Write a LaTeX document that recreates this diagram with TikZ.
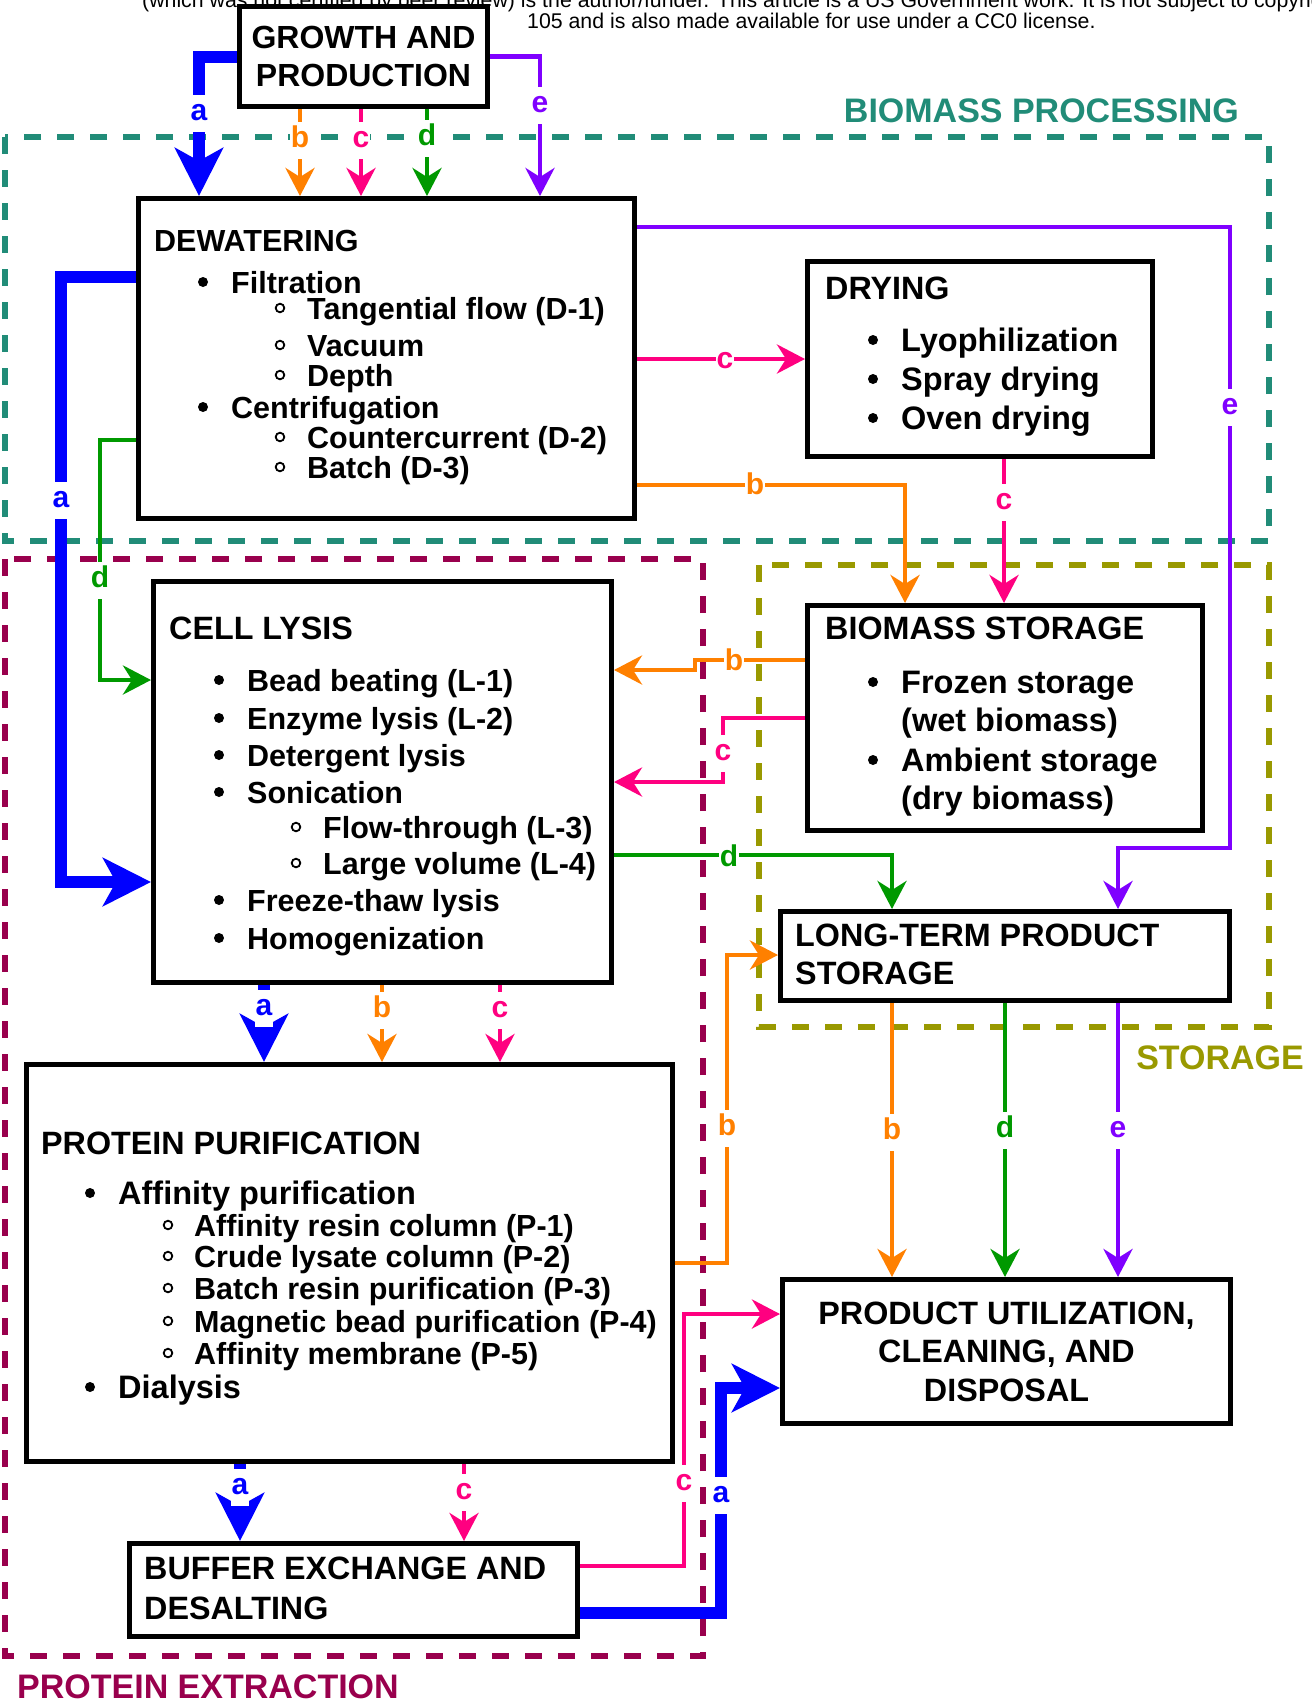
\documentclass[tikz,border=0pt]{standalone}
\usepackage{fontspec}
\setmainfont{Liberation Sans}[Ligatures={NoCommon}]
\usetikzlibrary{arrows.meta}
\definecolor{cA}{RGB}{0,0,255}
\definecolor{cB}{RGB}{255,128,0}
\definecolor{cC}{RGB}{255,0,128}
\definecolor{cD}{RGB}{0,153,0}
\definecolor{cE}{RGB}{127,0,255}
\definecolor{tealG}{RGB}{33,140,120}
\definecolor{maroonG}{RGB}{153,0,77}
\definecolor{oliveG}{RGB}{153,153,0}
\newcommand\fbody{\bfseries\fontsize{30.5}{36}\selectfont}
\newcommand\fbig{\bfseries\fontsize{32.5}{38}\selectfont}
\newcommand\ftitle{\bfseries\fontsize{32.3}{38}\selectfont}
\newcommand\flbl{\bfseries\fontsize{30}{32}\selectfont}
\newcommand\fsec{\bfseries\fontsize{34}{40}\selectfont}
\newcommand\fhead{\fontsize{21.3}{24}\selectfont}
\begin{document}
\begin{tikzpicture}[x=1pt,y=-1pt,
 box/.style={draw=black, line width=5pt, fill=white, inner sep=0pt, rectangle},
 ttl/.style={anchor=base west, font=\ftitle, inner sep=0pt},
 itm/.style={anchor=base west, font=\fbody, inner sep=0pt},
 itmb/.style={anchor=base west, font=\fbig, inner sep=0pt},
 ln/.style={line width=4.5pt, draw=#1, -{Stealth[length=28pt,width=29pt,inset=9pt]}},
 athk/.style={line width=12pt, draw=cA, -{Stealth[length=48pt,width=48pt,inset=13pt]}},
 lbl/.style={fill=white, text=#1, font=\flbl, inner xsep=0.5pt, inner ysep=5pt, text height=21pt, text depth=6pt},
 grp/.style={line width=5.5pt, dash pattern=on 17pt off 16pt, draw=#1},
 sec/.style={font=\fsec, text=#1, inner sep=0pt},
 bul/.style={fill=black},
 sbul/.style={draw=black, line width=1.8pt},
]
\useasboundingbox (0,0) rectangle (1312,1703);
\fill[white] (0,0) rectangle (1312,1703);

% header text
\node[anchor=base west, font=\fhead, inner sep=0pt] (hd1) at (142,7) {(which was not certified by peer review) is the author/funder. This article is a US Government work. It is not subject to copyright};
\node[anchor=base west, font=\fhead, inner sep=0pt] (hd2) at (527,28) {105 and is also made available for use under a CC0 license.};

% groups
\draw[grp=tealG] (5,137) rectangle (1269,541);
\draw[grp=maroonG] (5,559) rectangle (703,1656);
\draw[grp=oliveG] (759,565) rectangle (1269,1027);
\node[sec=tealG, anchor=base east] (gBP) at (1239,122) {BIOMASS PROCESSING};
\node[sec=oliveG, anchor=base east] (gST) at (1304,1069) {STORAGE};
\node[sec=maroonG, anchor=base west] (gPE) at (17,1698) {PROTEIN EXTRACTION};

% boxes
\node[box, minimum width=248pt, minimum height=100pt, align=center, font=\bfseries\fontsize{32}{38}\selectfont] (grow) at (363.5,56.5) {GROWTH AND\\PRODUCTION};
\node[box, minimum width=496pt, minimum height=320pt] (dew) at (386.5,358.5) {};
\node[box, minimum width=345pt, minimum height=195pt] (dry) at (980,359) {};
\node[box, minimum width=395pt, minimum height=225pt] (bio) at (1005,718) {};
\node[box, minimum width=449pt, minimum height=89pt] (lts) at (1005,956) {};
\node[box, minimum width=458pt, minimum height=401pt] (cell) at (382.5,782) {};
\node[box, minimum width=646pt, minimum height=397pt] (pp) at (349.5,1263) {};
\node[box, minimum width=448pt, minimum height=144pt, align=center, font=\bfseries\fontsize{32.3}{38.5}\selectfont] (pu) at (1006.5,1351.5) {PRODUCT UTILIZATION,\\CLEANING, AND\\DISPOSAL};
\node[box, minimum width=448pt, minimum height=93pt] (buf) at (353.5,1590) {};

% connectors
\draw[athk] (grow.west) -| (dew.north -| 199,0);
\draw[ln=cB] (grow.south -| 300,0) -- (dew.north -| 300,0);
\draw[ln=cC] (grow.south -| 361,0) -- (dew.north -| 361,0);
\draw[ln=cD] (grow.south -| 427,0) -- (dew.north -| 427,0);
\draw[ln=cE] (grow.east) -| (dew.north -| 540,0);

\draw[ln=cE] (dew.east |- 0,227) -| (1230,848) -| (lts.north -| 1118,0);
\draw[ln=cC] (dew.east |- dry.west) -- (dry.west);
\draw[ln=cB] (dew.east |- 0,485) -| (bio.north -| 905,0);
\draw[athk] (dew.west |- 0,277) -| (61,882) -- (cell.west |- 0,882);
\draw[ln=cD] (dew.west |- 0,440) -| (100,680) -- (cell.west |- 0,680);

\draw[ln=cC] (dry.south -| 1004,0) -- (bio.north -| 1004,0);

\draw[ln=cB] (bio.west |- 0,660) -- (695,660) -- (695,670) -- (cell.east |- 0,670);
\draw[ln=cC] (bio.west |- 0,718) -| (723,782) -- (cell.east |- 0,782);

\draw[ln=cD] (cell.east |- 0,855) -| (lts.north -| 892,0);
\draw[athk] (cell.south -| 264,0) -- (pp.north -| 264,0);
\draw[ln=cB] (cell.south -| 382,0) -- (pp.north -| 382,0);
\draw[ln=cC] (cell.south -| 500,0) -- (pp.north -| 500,0);

\draw[ln=cB] (lts.south -| 892,0) -- (pu.north -| 892,0);
\draw[ln=cD] (lts.south -| 1005,0) -- (pu.north -| 1005,0);
\draw[ln=cE] (lts.south -| 1118,0) -- (pu.north -| 1118,0);

\draw[ln=cB] (pp.east |- 0,1263) -| (727,955) -- (lts.west |- 0,955);
\draw[athk] (pp.south -| 240,0) -- (buf.north -| 240,0);
\draw[ln=cC] (pp.south -| 464,0) -- (buf.north -| 464,0);

\draw[ln=cC] (buf.east |- 0,1566) -| (684,1314) -- (pu.west |- 0,1314);
\draw[athk] (buf.east |- 0,1613) -| (721,1388) -- (pu.west |- 0,1388);

% connector labels
\node[lbl=cA] (la1) at (199,113) {a};
\node[lbl=cB] (lb1) at (300,140) {b};
\node[lbl=cC] (lc1) at (361,140) {c};
\node[lbl=cD] (ld1) at (427,138) {d};
\node[lbl=cE] (le1) at (540,105) {e};
\node[lbl=cE] (le2) at (1230,407) {e};
\node[lbl=cC] (lc2) at (725,361) {c};
\node[lbl=cB] (lb2) at (755,487) {b};
\node[lbl=cA] (la2) at (61,500) {a};
\node[lbl=cD] (ld2) at (100,580) {d};
\node[lbl=cC] (lc3) at (1004,502) {c};
\node[lbl=cB] (lb3) at (734,663) {b};
\node[lbl=cC] (lc4) at (723,753) {c};
\node[lbl=cD] (ld3) at (729,859) {d};
\node[lbl=cA] (la3) at (264,1008) {a};
\node[lbl=cB] (lb4) at (382,1010) {b};
\node[lbl=cC] (lc5) at (500,1010) {c};
\node[lbl=cB] (lb5) at (892,1132) {b};
\node[lbl=cD] (ld4) at (1005,1130) {d};
\node[lbl=cE] (le3) at (1118,1130) {e};
\node[lbl=cB] (lb6) at (727,1128) {b};
\node[lbl=cA] (la4) at (240,1487) {a};
\node[lbl=cC] (lc6) at (464,1492) {c};
\node[lbl=cC] (lc7) at (684,1483) {c};
\node[lbl=cA] (la5) at (721,1495) {a};

% DEWATERING text
\node[itm] (dw0) at (154,251) {DEWATERING};
\fill[bul] (203,282) circle[radius=5pt];
\node[itm] (dw1) at (231,293) {Filtration};
\draw[sbul] (280,308) circle[radius=4.3pt];
\node[itm] (dw2) at (307,319) {Tangential flow (D-1)};
\draw[sbul] (280,345) circle[radius=4.3pt];
\node[itm] (dw3) at (307,356) {Vacuum};
\draw[sbul] (280,375) circle[radius=4.3pt];
\node[itm] (dw4) at (307,386) {Depth};
\fill[bul] (203,407) circle[radius=5pt];
\node[itm] (dw5) at (231,418) {Centrifugation};
\draw[sbul] (280,437) circle[radius=4.3pt];
\node[itm] (dw6) at (307,448) {Countercurrent (D-2)};
\draw[sbul] (280,467) circle[radius=4.3pt];
\node[itm] (dw7) at (307,478) {Batch (D-3)};

% DRYING text
\node[ttl] (dr0) at (825,299.5) {DRYING};
\fill[bul] (873,340) circle[radius=5pt];
\node[itmb] (dr1) at (901,351.5) {Lyophilization};
\fill[bul] (873,379) circle[radius=5pt];
\node[itmb] (dr2) at (901,390.5) {Spray drying};
\fill[bul] (873,418) circle[radius=5pt];
\node[itmb] (dr3) at (901,429.5) {Oven drying};

% BIOMASS STORAGE text
\node[ttl] (bs0) at (825,639.5) {BIOMASS STORAGE};
\fill[bul] (873,682) circle[radius=5pt];
\node[itmb] (bs1) at (901,693.5) {Frozen storage};
\node[itmb] (bs2) at (901,731.5) {(wet biomass)};
\fill[bul] (873,760) circle[radius=5pt];
\node[itmb] (bs3) at (901,771.5) {Ambient storage};
\node[itmb] (bs4) at (901,809.5) {(dry biomass)};

% LONG-TERM text
\node[ttl] (lt0) at (795,946.5) {LONG-TERM PRODUCT};
\node[ttl] (lt1) at (795,984.5) {STORAGE};

% CELL LYSIS text
\node[ttl] (cl0) at (169,639.5) {CELL LYSIS};
\fill[bul] (219,680) circle[radius=5pt];
\node[itm] (cl1) at (247,691) {Bead beating (L-1)};
\fill[bul] (219,718) circle[radius=5pt];
\node[itm] (cl2) at (247,729) {Enzyme lysis (L-2)};
\fill[bul] (219,755) circle[radius=5pt];
\node[itm] (cl3) at (247,766) {Detergent lysis};
\fill[bul] (219,792) circle[radius=5pt];
\node[itm] (cl4) at (247,803) {Sonication};
\draw[sbul] (296,827) circle[radius=4.3pt];
\node[itm] (cl5) at (323,838) {Flow-through (L-3)};
\draw[sbul] (296,863) circle[radius=4.3pt];
\node[itm] (cl6) at (323,874) {Large volume (L-4)};
\fill[bul] (219,900) circle[radius=5pt];
\node[itm] (cl7) at (247,911) {Freeze-thaw lysis};
\fill[bul] (219,938) circle[radius=5pt];
\node[itm] (cl8) at (247,949) {Homogenization};

% PROTEIN PURIFICATION text
\node[ttl] (pp0) at (41,1154.5) {PROTEIN PURIFICATION};
\fill[bul] (90,1193) circle[radius=5pt];
\node[itmb] (pp1) at (118,1204.5) {Affinity purification};
\draw[sbul] (168,1225) circle[radius=4.3pt];
\node[itm] (pp2) at (194,1236) {Affinity resin column (P-1)};
\draw[sbul] (168,1256) circle[radius=4.3pt];
\node[itm] (pp3) at (194,1267) {Crude lysate column (P-2)};
\draw[sbul] (168,1288) circle[radius=4.3pt];
\node[itm] (pp4) at (194,1299) {Batch resin purification (P-3)};
\draw[sbul] (168,1321) circle[radius=4.3pt];
\node[itm] (pp5) at (194,1332) {Magnetic bead purification (P-4)};
\draw[sbul] (168,1353) circle[radius=4.3pt];
\node[itm] (pp6) at (194,1364) {Affinity membrane (P-5)};
\fill[bul] (90,1387) circle[radius=5pt];
\node[itmb] (pp7) at (118,1398.5) {Dialysis};

% BUFFER text
\node[ttl] (bf0) at (144,1579.5) {BUFFER EXCHANGE AND};
\node[ttl] (bf1) at (144,1619.5) {DESALTING};
\end{tikzpicture}
\end{document}
